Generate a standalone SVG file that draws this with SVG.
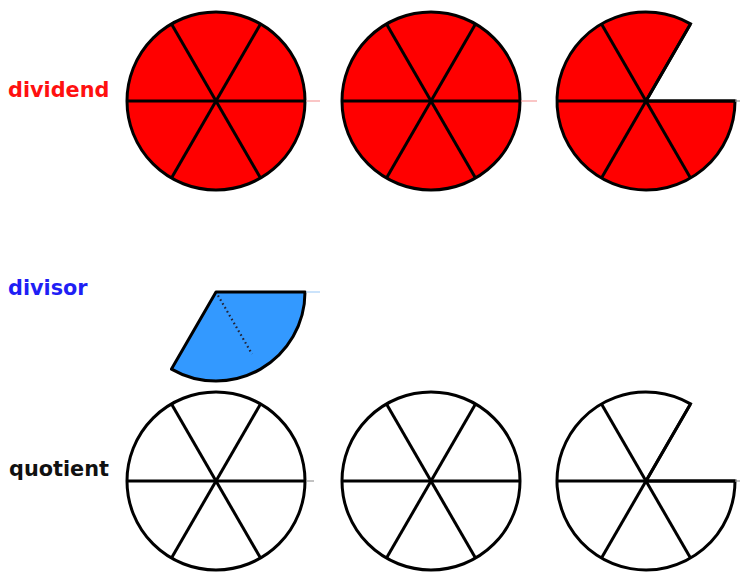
<svg xmlns="http://www.w3.org/2000/svg" xmlns:xlink="http://www.w3.org/1999/xlink" width="741" height="572" viewBox="0 0 741 572">
<style>
.lbl{font-family:"DejaVu Sans",Verdana,sans-serif;font-weight:bold;font-size:20.8px}
.red{fill:#ff0000;stroke:#000;stroke-width:3}
.white{fill:#fff;stroke:#000;stroke-width:3}
.blue{fill:#3399ff;stroke:#000;stroke-width:3;stroke-linejoin:round}
.sp{stroke:#000;stroke-width:3;fill:none}
.tailr{stroke:#f7a0a0;stroke-width:1.2}
.tailb{stroke:#a8d0f8;stroke-width:1.2}
.tailk{stroke:#999;stroke-width:1.2}
.dots{stroke:#223;stroke-width:2.2;stroke-dasharray:1.6 2.9;fill:none}
</style>
<defs>
<g id="spokes">
<line class="sp" x1="-89" y1="0" x2="89" y2="0"/>
<line class="sp" x1="-44.5" y1="-77.08" x2="44.5" y2="77.08"/>
<line class="sp" x1="44.5" y1="-77.08" x2="-44.5" y2="77.08"/>
</g>
</defs>
<rect width="741" height="572" fill="#fff"/>
<g id="label-dividend"><text class="lbl" x="8" y="97" fill="#ff1010">dividend</text></g>
<g id="dividend-1" transform="translate(216,101)">
<circle class="red" r="89"/><use xlink:href="#spokes"/>
<line class="tailr" x1="90" y1="0" x2="104" y2="0"/>
</g>
<g id="dividend-2" transform="translate(431,101)">
<circle class="red" r="89"/><use xlink:href="#spokes"/>
<line class="tailr" x1="90" y1="0" x2="106" y2="0"/>
</g>
<g id="dividend-3" transform="translate(646,101)">
<path class="red" d="M0,0 L44.5,-77.08 A89,89 0 1 0 89,0 Z"/><use xlink:href="#spokes"/>
<line class="tailk" x1="89" y1="0" x2="94" y2="0"/>
</g>
<g id="label-divisor"><text class="lbl" x="8" y="295" fill="#1f1ff5">divisor</text></g>
<g id="divisor" transform="translate(216,292)">
<path class="blue" d="M0,0 L89,0 A89,89 0 0 1 -44.5,77.08 Z"/>
<line class="tailb" x1="90" y1="0" x2="104" y2="0"/>
<line class="dots" x1="2" y1="3.5" x2="36" y2="62"/>
</g>
<g id="label-quotient"><text class="lbl" x="9" y="476" fill="#111">quotient</text></g>
<g id="quotient-1" transform="translate(216,481)">
<circle class="white" r="89"/><use xlink:href="#spokes"/>
<line class="tailk" x1="90" y1="0" x2="98" y2="0"/>
</g>
<g id="quotient-2" transform="translate(431,481)">
<circle class="white" r="89"/><use xlink:href="#spokes"/>
</g>
<g id="quotient-3" transform="translate(646,481)">
<path class="white" d="M0,0 L44.5,-77.08 A89,89 0 1 0 89,0 Z"/><use xlink:href="#spokes"/>
<line class="tailk" x1="89" y1="0" x2="94" y2="0"/>
</g>
<g id="connectors"/>
</svg>
